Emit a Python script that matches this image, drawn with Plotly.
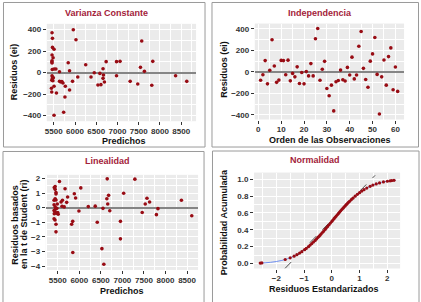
import plotly.graph_objects as go
from plotly.subplots import make_subplots

# ---------------- data ----------------
# Panel 1: Varianza Constante (predichos vs residuos)
pred1 = [5460, 5470, 5470, 5507, 5460, 5484, 5460, 5460, 5455, 5465, 5507, 5550,
         5460, 5470, 5490, 5465, 5455, 5480, 5507, 5446, 5453, 5563, 5507,
         5635, 5635, 5665, 5690, 5717, 5772, 5763, 5733, 5840, 5872, 5872, 5942,
         5960, 6023, 6065, 6252, 6377, 6453, 6586, 6540, 6610, 6660, 6670, 6660,
         6693, 6733, 6977, 6977, 7060, 7298, 7477, 7540, 7570, 7633, 7830, 7807,
         8367, 8630]
res1 = [370, 318, 234, 216, 163, 138, 110, 88, 97, 28, 33, 33,
        -30, -42, -48, -58, -72, -76, -128, -147, -181, -190, -398,
        7, -82, -88, -84, -98, -128, -228, -370, 91, 17, -163, -82,
        398, 305, -42, 73, -42, -2, -8, -116, -113, 35, -23, -54,
        -88, 101, 101, -30, 104, -82, -107, 48, 293, 11, 104, -119,
        -30, -82]

# Panel 2: Independencia (orden vs residuos)
orden2 = list(range(1, 62))
res2 = [-77, -27, 105, -111, 16, 298, 55, -97, -76, 107, 105, -27, 109, -83, -14,
        -46, 47, -108, -6, -111, 3, -37, 77, -37, 308, 403, -77, 24, 98, -154,
        -221, -123, -362, -92, -80, 17, -73, -85, 42, -29, 137, -65, -29, 238, 375,
        33, -71, -143, 100, 167, 320, -23, -391, -46, 110, -123, 142, 223, -166, 46,
        -181]

# Panel 3: Linealidad (predichos vs residuos t de Student)
pred3 = [5540, 5420, 5440, 5440, 5670, 5460, 5460, 5885, 6035, 5915, 5730,
         5610, 5577, 5708, 5415, 5460, 5600, 5650, 5415, 6209, 6370, 6648, 6680,
         6640, 6660, 6550, 6708, 6417, 6955, 6955, 7030, 7290, 6525, 6570, 5850,
         5848, 5823, 5992, 5460, 5460, 5437, 5415, 5415, 5437, 5470, 5500, 5420,
         5450, 7530, 7571, 7632, 7460, 7790, 7825, 8370, 8610, 5480, 5490, 5440,
         5510, 5440]
rst3 = [1.79, 1.38, 1.45, 1.25, 1.29, 1.04, 0.93, 0.95, 1.35, 0.66, 0.73,
        0.50, 0.39, 0.36, 0.50, 0.52, 0.09, 0.05, 0.20, 0.07, 0.10, 1.97, 0.84,
        0.61, 0.25, -0.05, -0.21, -1.00, -0.94, -2.14, 0.98, 1.95, -2.81, -3.88, -3.07,
        -0.94, -1.14, -0.23, -1.66, -1.14, -0.85, -0.76, -0.20, -0.30, -0.38, -0.33, -0.42,
        -0.10, 0.25, 0.64, 0.39, -0.33, -0.48, -0.07, 0.51, -0.56, -0.05, 0.25, 0.05,
        -0.45, 0.60]

# Panel 4: Normalidad
z4 = [-2.58, -2.52, -1.68, -1.50, -1.36, -1.26, -1.16, -1.08, -0.98, -0.92, -0.84,
      -0.78, -0.72, -0.66, -0.60, -0.55, -0.50, -0.46, -0.42, -0.38, -0.33, -0.29,
      -0.24, -0.20, -0.15, -0.10, -0.05, 0.00, 0.04, 0.08, 0.12, 0.16, 0.20, 0.24,
      0.28, 0.32, 0.36, 0.40, 0.44, 0.48, 0.52, 0.56, 0.60, 0.64, 0.70, 0.76, 0.84,
      0.92, 1.00, 1.08, 1.16, 1.26, 1.38, 1.48, 1.60, 1.72, 1.86, 2.00, 2.10, 2.16, 2.24]
p4 = [0.005, 0.006, 0.047, 0.067, 0.087, 0.104, 0.123, 0.140, 0.164, 0.179, 0.200,
      0.218, 0.236, 0.255, 0.274, 0.291, 0.309, 0.323, 0.337, 0.352, 0.371, 0.386,
      0.405, 0.421, 0.440, 0.460, 0.480, 0.500, 0.516, 0.532, 0.548, 0.564, 0.579, 0.595,
      0.610, 0.626, 0.641, 0.655, 0.670, 0.684, 0.699, 0.712, 0.726, 0.739, 0.758, 0.776, 0.800,
      0.821, 0.841, 0.860, 0.877, 0.896, 0.916, 0.931, 0.945, 0.957, 0.969, 0.977, 0.982, 0.985, 0.988]
curve_x = [-2.6, -2.4, -2.2, -2.0, -1.8, -1.6, -1.4, -1.2, -1.0, -0.8, -0.6, -0.4, -0.2,
           0.0, 0.2, 0.4, 0.6, 0.8, 1.0, 1.2, 1.4, 1.6, 1.8, 2.0, 2.2, 2.3]
curve_y = [0.005, 0.008, 0.014, 0.023, 0.036, 0.055, 0.081, 0.115, 0.159, 0.212, 0.274,
           0.345, 0.421, 0.500, 0.579, 0.655, 0.726, 0.788, 0.841, 0.885, 0.919, 0.945,
           0.964, 0.977, 0.986, 0.989]
ref_x = [-1.69, 1.56]
ref_y = [-0.06, 1.047]

titles = ["Varianza Constante", "Independencia", "Linealidad", "Normalidad"]

# ---------------- figure ----------------
W, H = 421, 302


def px(x):
    return x / W


def py(y):
    return 1 - y / H


PT = '#980c14'
FONT = 'Liberation Sans, Arial, sans-serif'

fig = make_subplots(rows=2, cols=2)
mk = dict(color=PT, size=3.6, line=dict(width=0))
fig.add_trace(go.Scatter(x=pred1, y=res1, mode='markers', marker=mk), row=1, col=1)
fig.add_trace(go.Scatter(x=orden2, y=res2, mode='markers', marker=mk), row=1, col=2)
fig.add_trace(go.Scatter(x=pred3, y=rst3, mode='markers', marker=mk), row=2, col=1)
fig.add_trace(go.Scatter(x=curve_x, y=curve_y, mode='lines',
                         line=dict(color='#6f8ff0', width=1, shape='spline')), row=2, col=2)
fig.add_trace(go.Scatter(x=ref_x, y=ref_y, mode='lines',
                         line=dict(color='#505050', width=1, dash='dash')), row=2, col=2)
fig.add_trace(go.Scatter(x=z4, y=p4, mode='markers',
                         marker=dict(color=PT, size=3.2, line=dict(width=0))), row=2, col=2)

tickfont = dict(family=FONT, size=8, color='#333333', weight='bold')
common = dict(showgrid=True, gridcolor='white', gridwidth=1, ticks='outside', ticklen=3,
              tickcolor='#333333', tickwidth=1, tickfont=tickfont, showline=False,
              zeroline=False, fixedrange=True)


def ax(domain, rng, dtick, mdtick, tick0=0, zl=False, fmt=None, xa=False):
    d = dict(common)
    d.update(domain=domain, range=rng, dtick=dtick, tick0=tick0,
             minor=dict(dtick=mdtick, tick0=tick0, showgrid=True, gridcolor='white',
                        gridwidth=0.5, ticks=''))
    if zl:
        d.update(zeroline=True, zerolinecolor='#858585', zerolinewidth=1.5)
    if fmt:
        d.update(tickformat=fmt)
    if xa:
        d.update(ticklabelstandoff=-1)
    return d


fig.update_layout(
    width=W, height=H, autosize=False,
    margin=dict(l=0, r=0, t=0, b=0),
    paper_bgcolor='white', plot_bgcolor='#EBEBEB', showlegend=False,
    xaxis=ax([px(45), px(195)], [5336, 8849], 500, 250, tick0=5500, xa=True),
    yaxis=ax([py(121), py(23)], [-453, 453], 200, 100, zl=True),
    xaxis2=ax([px(254), px(404)], [-1.55, 63.8], 10, 5, xa=True),
    yaxis2=ax([py(119.3), py(22.7)], [-442, 449], 200, 100, zl=True),
    xaxis3=ax([px(44), px(197)], [5223, 8756], 500, 250, tick0=5500, xa=True),
    yaxis3=ax([py(270.7), py(175)], [-4.265, 2.245], 1, 0.5, zl=True),
    xaxis4=ax([px(253.3), px(400)], [-2.80, 2.46], 1, 0.5, xa=True),
    yaxis4=ax([py(269.3), py(172.7)], [-0.060, 1.080], 0.2, 0.1, fmt='.1f'),
)

tfont = dict(family=FONT, size=9, color='#a3223a', weight='bold')
afont = dict(family=FONT, size=9, color='#111111', weight='bold')


def ann(x, y, text, font, angle=0):
    fig.add_annotation(x=px(x), y=py(y), xref='paper', yref='paper', text=text,
                       showarrow=False, font=font, textangle=angle,
                       xanchor='center', yanchor='middle', borderpad=0)


# panel titles
ann(105, 12.5, titles[0], tfont)
ann(320, 12, titles[1], tfont)
ann(106, 161, titles[2], tfont)
ann(314, 160, titles[3], tfont)
# axis titles
ann(123, 140.5, "Predichos", afont)
ann(12.3, 71.5, "Residuos (ei)", afont, -90)
ann(330, 140, "Orden de las Observaciones", afont)
ann(222.3, 69, "Residuos (ei)", afont, -90)
ann(121, 291.5, "Predichos", afont)
ann(12.3, 225, "Residuos basados", afont, -90)
ann(21.7, 225, "en la t de Student (ri)", afont, -90)
ann(324, 290, "Residuos Estandarizados", afont)
ann(223.3, 222.5, "Probabilidad Acumulada", afont, -90)

# panel frames
frames = [(1.5, 1.5, 204, 147), (211, 1.5, 418.5, 147),
          (1, 151.5, 203, 310), (211.5, 151, 419, 310)]
for x0, y0, x1, y1 in frames:
    fig.add_shape(type='rect', xref='paper', yref='paper',
                  x0=px(x0), x1=px(x1), y0=py(y1), y1=py(y0),
                  line=dict(color='#9a9a9a', width=1), fillcolor='rgba(0,0,0,0)',
                  layer='above')

fig.write_html("out.html", config={'displayModeBar': False},
               post_script="document.body.style.margin='0';")
